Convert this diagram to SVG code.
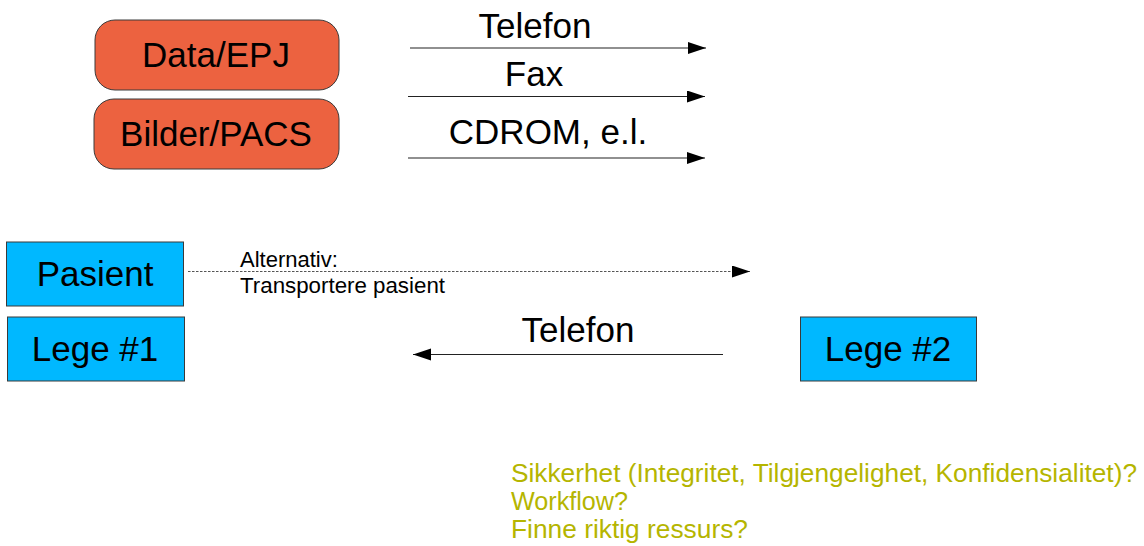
<svg xmlns="http://www.w3.org/2000/svg" width="1144" height="546" viewBox="0 0 1144 546">
<style>
  .lbl{font-family:"Liberation Sans",Arial,sans-serif;font-size:35px;fill:#000;text-anchor:middle}
  .small{font-family:"Liberation Sans",Arial,sans-serif;font-size:22px;fill:#000}
  .note{font-family:"Liberation Sans",Arial,sans-serif;font-size:25px;fill:#b5b500}
  .orange{fill:#ec6240;stroke:#3a3a3a;stroke-width:1}
  .blue{fill:#00b8ff;stroke:#3a3a3a;stroke-width:1}
  .ln{stroke:#222;stroke-width:1.2;fill:none}
  .dot{stroke:#555;stroke-width:1.2;stroke-dasharray:2.5 1.5;fill:none}
</style>
<defs>
  <marker id="ah" markerUnits="userSpaceOnUse" markerWidth="19" markerHeight="13" refX="18" refY="6" orient="auto">
    <path d="M0,0 L18,6 L0,12 Z" fill="#000"/>
  </marker>
</defs>
<rect width="1144" height="546" fill="#fff"/>
<g id="data-epj"><rect class="orange" x="95" y="20" width="244" height="70" rx="20"/><text class="lbl" x="216" y="67">Data/EPJ</text></g>
<g id="bilder-pacs"><rect class="orange" x="94" y="99" width="245" height="70" rx="20"/><text class="lbl" x="216" y="146">Bilder/PACS</text></g>
<g id="pasient"><rect class="blue" x="6.5" y="242" width="177" height="64"/><text class="lbl" x="95" y="286">Pasient</text></g>
<g id="lege1"><rect class="blue" x="7.5" y="317" width="177" height="64"/><text class="lbl" x="95" y="361">Lege #1</text></g>
<g id="lege2"><rect class="blue" x="800.5" y="317" width="176" height="64"/><text class="lbl" x="888" y="361">Lege #2</text></g>
<g id="connectors">
  <line class="ln" x1="410" y1="48" x2="706" y2="48" marker-end="url(#ah)"/>
  <line class="ln" x1="408" y1="96.5" x2="705" y2="96.5" marker-end="url(#ah)"/>
  <line class="ln" x1="408" y1="158" x2="705" y2="158" marker-end="url(#ah)"/>
  <line class="dot" x1="188" y1="271.5" x2="750" y2="271.5" marker-end="url(#ah)"/>
  <line class="ln" x1="723" y1="354.5" x2="413" y2="354.5" marker-end="url(#ah)"/>
  <text class="lbl" x="535" y="38">Telefon</text>
  <text class="lbl" x="534" y="86">Fax</text>
  <text class="lbl" x="548" y="144">CDROM, e.l.</text>
  <text class="small" x="240" y="267">Alternativ:</text>
  <text class="small" x="240" y="293" textLength="205" lengthAdjust="spacingAndGlyphs">Transportere pasient</text>
  <text class="lbl" x="578" y="342">Telefon</text>
</g>
<g id="notes">
  <text class="note" x="511" y="482" textLength="626" lengthAdjust="spacingAndGlyphs">Sikkerhet (Integritet, Tilgjengelighet, Konfidensialitet)?</text>
  <text class="note" x="511" y="510" textLength="117" lengthAdjust="spacingAndGlyphs">Workflow?</text>
  <text class="note" x="511" y="538" textLength="237" lengthAdjust="spacingAndGlyphs">Finne riktig ressurs?</text>
</g>
</svg>
